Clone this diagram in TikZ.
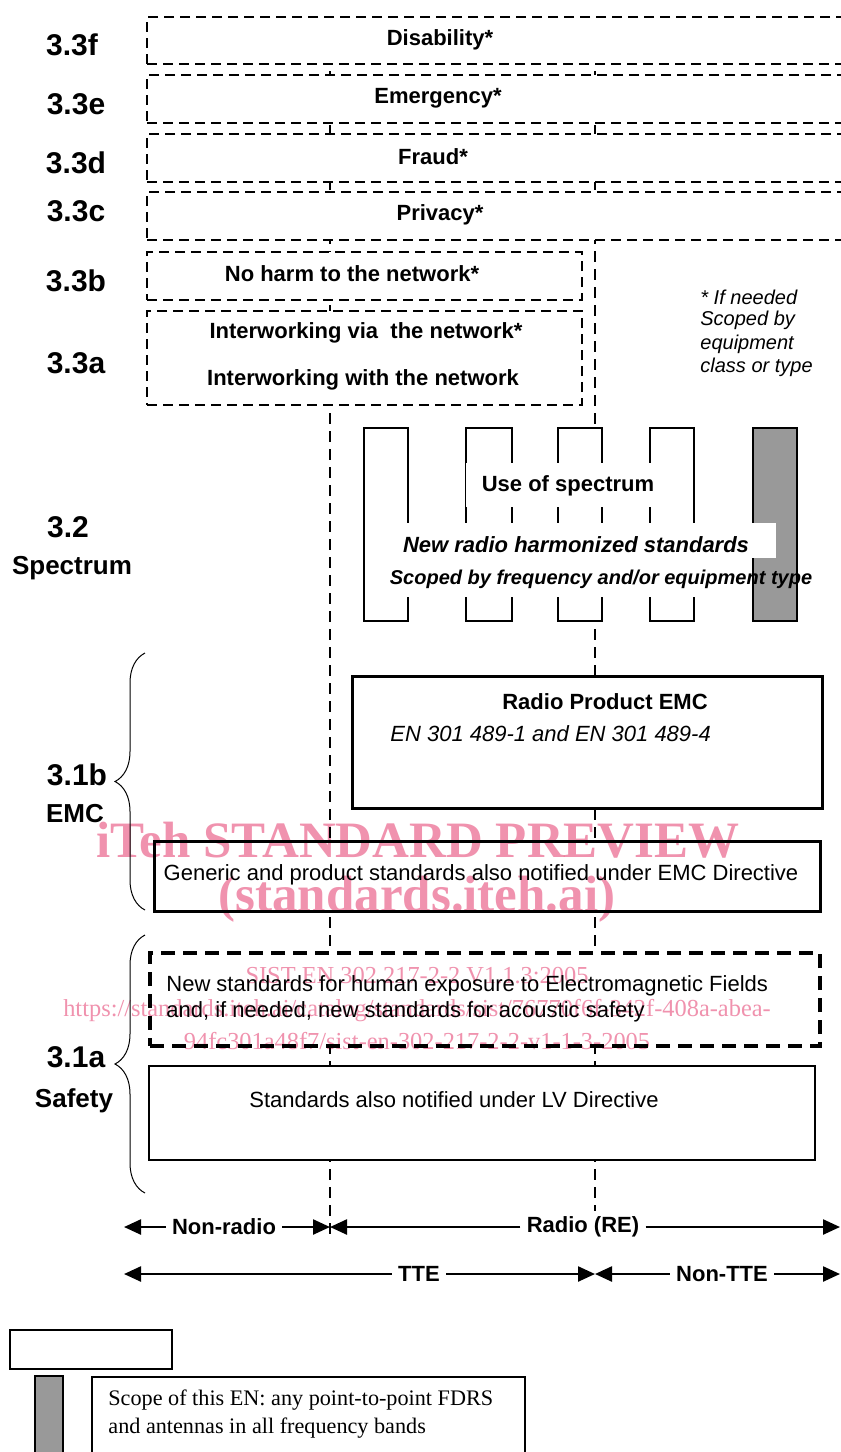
\documentclass[tikz,border=0pt]{standalone}
\usepackage{fontspec}
\setmainfont{Liberation Sans}
\newfontfamily\wmserif{Liberation Serif}
\usetikzlibrary{arrows.meta,decorations.pathreplacing,fit}
\definecolor{wmpink}{RGB}{240,146,174}
\definecolor{bargray}{RGB}{153,153,153}
\begin{document}
\begin{tikzpicture}[x=0.5pt,y=-0.5pt,
  seclabel/.style={font=\fontsize{15}{18}\selectfont\bfseries},
  secword/.style={font=\fontsize{13}{16}\selectfont\bfseries},
  plain/.style={font=\fontsize{11}{13}\selectfont, inner sep=0pt},
  bold/.style={font=\fontsize{11}{13}\selectfont\bfseries, inner sep=0pt},
  note/.style={font=\fontsize{10}{12}\selectfont\itshape, inner sep=0pt, anchor=west},
  dbox/.style={draw, fill=white, line width=1.4pt, dash pattern=on 5pt off 3pt, inner sep=0pt},
  sbox/.style={draw, fill=white, line width=1.3pt, inner sep=0pt},
  colbox/.style={draw, fill=white, line width=1.1pt, inner sep=0pt},
  blank/.style={fill=white, inner sep=0pt},
  vline/.style={line width=1.3pt, dash pattern=on 5.5pt off 3.5pt},
  arr/.style={line width=1.2pt, -{Triangle[length=8.5pt,width=7.5pt]}},
  armlabel/.style={font=\fontsize{11}{13}\selectfont\bfseries, fill=white, inner sep=3pt},
  sbrace/.style={decorate, decoration={brace, amplitude=15pt}, line width=0.5pt},
  wmbig/.style={text=wmpink, font=\wmserif\fontsize{25.5}{28}\selectfont\bfseries, inner sep=0pt},
  wmsmall/.style={text=wmpink, font=\wmserif\fontsize{12.2}{14}\selectfont, inner sep=0pt}]
\useasboundingbox (0,0) rectangle (841,1452);

% vertical scope dividers (behind all boxes)
\coordinate (d1top) at (330,17);
\coordinate (d1bot) at (330,1240);
\coordinate (d2top) at (595,17);
\coordinate (d2bot) at (595,1240);
\draw[vline] (d1top) -- (d1bot);
\draw[vline] (d2top) -- (d2bot);

% essential requirements 3.3
\node[dbox, fit={(147,17)(905,64)}] (b33f) {};
\node[dbox, fit={(147,75)(905,123)}] (b33e) {};
\node[dbox, fit={(147,134)(905,182)}] (b33d) {};
\node[dbox, fit={(147,192)(905,240)}] (b33c) {};
\node[dbox, fit={(147,252)(582,300)}] (b33b) {};
\node[dbox, fit={(147,311)(582,405)}] (b33a) {};
\node[bold] (tdis) at (440,40) {Disability*};
\node[bold] (temg) at (438,98) {Emergency*};
\node[bold] (tfra) at (433,157) {Fraud*};
\node[bold] (tpri) at (440,215) {Privacy*};
\node[bold] (tharm) at (352,274) {No harm to the network*};
\node[bold] (tvia) at (366,333) {Interworking via\ \ the network*};
\node[bold] (twith) at (363,380) {Interworking with the network};

\node[note] (n1) at (700,297) {* If needed};
\node[note] (n2) at (700,320) {Scoped by};
\node[note] (n3) at (700,344) {equipment};
\node[note] (n4) at (700,367) {class or type};

% section labels
\node[seclabel] (l33f) at (72,45) {3.3f};
\node[seclabel] (l33e) at (76,104) {3.3e};
\node[seclabel] (l33d) at (76,163) {3.3d};
\node[seclabel] (l33c) at (76,211) {3.3c};
\node[seclabel] (l33b) at (76,281) {3.3b};
\node[seclabel] (l33a) at (76,363) {3.3a};
\node[seclabel] (l32) at (68,527) {3.2};
\node[secword] (lspec) at (72,568) {Spectrum};
\node[seclabel] (l31b) at (77,775) {3.1b};
\node[secword] (lemc) at (75,814) {EMC};
\node[seclabel] (l31a) at (76,1057) {3.1a};
\node[secword] (lsaf) at (74,1101) {Safety};

% spectrum columns
\node[colbox, fit={(364,428)(408,621)}] (c1) {};
\node[colbox, fit={(466,428)(512,621)}] (c2) {};
\node[colbox, fit={(558,428)(602,621)}] (c3) {};
\node[colbox, fit={(650,428)(694,621)}] (c4) {};
\node[colbox, fill=bargray, fit={(753,428)(797,621)}] (c5) {};
\node[blank, fit={(466,463)(651,507)}] (wuse) {};
\node[blank, fit={(367,523)(776,558)}] (wnew) {};
\node[blank, fit={(367,558)(752,597)}] (wscope) {};
\node[bold] (tuse) at (568,486) {Use of spectrum};
\node[bold, font=\fontsize{11}{13}\selectfont\bfseries\itshape] (tnew) at (576,545) {New radio harmonized standards};
\node[bold, font=\fontsize{10}{12}\selectfont\bfseries\itshape] (tscope) at (601,579) {Scoped by frequency and/or equipment type};

% EMC
\node[sbox, line width=1.5pt, fit={(352,676)(822,808)}] (bremc) {};
\node[bold] (tremc) at (605,702) {Radio Product EMC};
\node[plain, font=\fontsize{11}{13}\selectfont\itshape, anchor=west] (tren) at (390,734) {EN 301 489-1 and EN 301 489-4};
\node[sbox, line width=1.5pt, fit={(154,841)(820,911)}] (bgen) {};
\node[plain] (tgen) at (481,875) {Generic and product standards also notified under EMC Directive};

% safety
\node[dbox, line width=1.8pt, dash pattern=on 7pt off 4pt, fit={(150,953)(820,1046)}] (bfield) {};
\node[plain, anchor=west] (tf1) at (166,986) {New standards for human exposure to Electromagnetic Fields};
\node[plain, anchor=west] (tf2) at (166,1012) {and, if needed, new standards for acoustic safety};
\node[sbox, fit={(149,1066)(815,1160)}] (blv) {};
\node[plain] (tlv) at (454,1100) {Standards also notified under LV Directive};

% braces
\coordinate (br1a) at (145,910);
\coordinate (br1b) at (145,653);
\coordinate (br2a) at (145,1193);
\coordinate (br2b) at (145,935);
\draw[sbrace] (br1a) -- (br1b);
\draw[sbrace] (br2a) -- (br2b);

% scope arrows
\coordinate (nrL) at (124,1227);
\coordinate (nrR) at (330,1227);
\coordinate (raL) at (330,1227);
\coordinate (raR) at (840,1227);
\coordinate (tteL) at (124,1274);
\coordinate (tteR) at (595,1274);
\coordinate (ntL) at (595,1274);
\coordinate (ntR) at (840,1274);
\node[armlabel] (anr) at (224,1227) {Non-radio};
\node[armlabel] (ara) at (583,1227) {Radio (RE)};
\node[armlabel] (atte) at (419,1274) {TTE};
\node[armlabel] (ant) at (722,1274) {Non-TTE};
\draw[arr] (anr) -- (nrL);
\draw[arr] (anr) -- (nrR);
\draw[arr] (ara) -- (raL);
\draw[arr] (ara) -- (raR);
\draw[arr] (atte) -- (tteL);
\draw[arr] (atte) -- (tteR);
\draw[arr] (ant) -- (ntL);
\draw[arr] (ant) -- (ntR);

% key
\node[draw, line width=0.6pt, fit={(10,1330)(172,1369)}, inner sep=0pt] (kbox) {};
\node[draw, line width=0.7pt, fill=bargray, fit={(35,1376)(63,1470)}, inner sep=0pt] (kbar) {};
\node[draw, line width=0.6pt, fit={(92,1377)(525,1470)}, inner sep=0pt] (kdesc) {};
\node[anchor=west, inner sep=0pt, font=\wmserif\fontsize{11.1}{13}\selectfont] (k1) at (108,1400) {Scope of this EN: any point-to-point FDRS};
\node[anchor=west, inner sep=0pt, font=\wmserif\fontsize{11.1}{13}\selectfont] (k2) at (108,1428) {and antennas in all frequency bands};

% overprinted marks
\begin{scope}[blend mode=multiply]
\node[wmbig] (w1) at (418,840) {iTeh STANDARD PREVIEW};
\node[wmbig] (w2) at (417,899) {(standards.iteh.ai)};
\node[wmsmall] (w3) at (417,976) {SIST EN 302 217-2-2 V1.1.3:2005};
\node[wmsmall] (w4) at (417,1011) {https://standards.iteh.ai/catalog/standards/sist/76770f6f-342f-408a-abea-};
\node[wmsmall] (w5) at (417,1041) {94fc301a48f7/sist-en-302-217-2-2-v1-1-3-2005};
\end{scope}
\end{tikzpicture}
\end{document}
